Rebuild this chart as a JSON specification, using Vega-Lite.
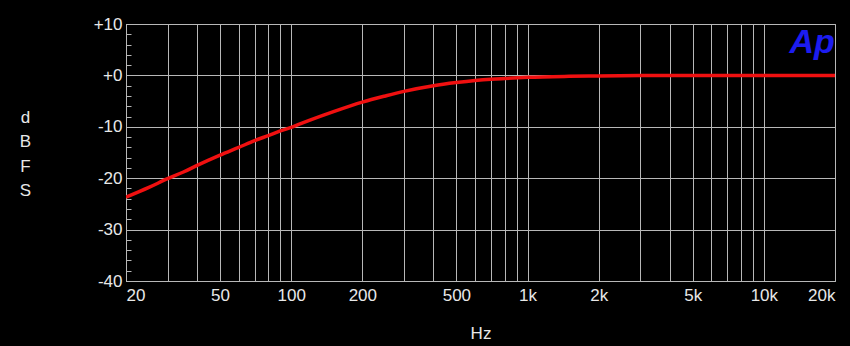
{
  "$schema": "https://vega.github.io/schema/vega-lite/v6.json",
  "width": 709,
  "height": 257,
  "autosize": {"type": "none"},
  "padding": {"left": 126, "top": 24, "right": 15, "bottom": 65},
  "background": "#000000",
  "config": {
    "view": {"stroke": "#b8b8b8", "strokeWidth": 1},
    "font": "Liberation Sans"
  },
  "layer": [
    {
      "data": {"values": [
        {"freq": 20, "dB": -23.7},
        {"freq": 25, "dB": -21.8},
        {"freq": 30, "dB": -20.1},
        {"freq": 35, "dB": -18.8},
        {"freq": 40, "dB": -17.5},
        {"freq": 50, "dB": -15.5},
        {"freq": 60, "dB": -14.0},
        {"freq": 70, "dB": -12.7},
        {"freq": 80, "dB": -11.7},
        {"freq": 90, "dB": -10.8},
        {"freq": 100, "dB": -10.1},
        {"freq": 120, "dB": -8.7},
        {"freq": 150, "dB": -7.1},
        {"freq": 200, "dB": -5.2},
        {"freq": 250, "dB": -4.0},
        {"freq": 300, "dB": -3.1},
        {"freq": 400, "dB": -2.0},
        {"freq": 500, "dB": -1.4},
        {"freq": 600, "dB": -1.0},
        {"freq": 700, "dB": -0.75},
        {"freq": 800, "dB": -0.6},
        {"freq": 1000, "dB": -0.38},
        {"freq": 1500, "dB": -0.18},
        {"freq": 2000, "dB": -0.1},
        {"freq": 3000, "dB": -0.04},
        {"freq": 5000, "dB": -0.02},
        {"freq": 10000, "dB": 0},
        {"freq": 20000, "dB": 0}
      ]},
      "mark": {"type": "line", "color": "#f01010", "strokeWidth": 3.5, "interpolate": "monotone", "clip": true},
      "encoding": {
        "x": {
          "field": "freq", "type": "quantitative",
          "scale": {"type": "log", "domain": [20, 20000], "nice": false},
          "axis": {
            "values": [20,30,40,50,60,70,80,90,100,200,300,400,500,600,700,800,900,1000,2000,3000,4000,5000,6000,7000,8000,9000,10000,20000],
            "tickCount": 200,
            "labelExpr": "indexof([20,50,100,200,500,1000,2000,5000,10000,20000], datum.value) >= 0 ? (datum.value >= 1000 ? (datum.value/1000) + 'k' : '' + datum.value) : ''",
            "labelFlush": true,
            "labelOverlap": false,
            "labelColor": "#e8e8e8",
            "labelFontSize": 17,
            "labelPadding": 6,
            "ticks": false,
            "domainColor": "#b8b8b8",
            "grid": true,
            "gridColor": "#b8b8b8",
            "gridOpacity": 1,
            "title": "Hz",
            "titleColor": "#e8e8e8",
            "titleFontSize": 17,
            "titleFontWeight": "normal",
            "titleBaseline": "middle",
            "titleY": 52
          }
        },
        "y": {
          "field": "dB", "type": "quantitative",
          "scale": {"domain": [-40, 10], "nice": false, "zero": false},
          "axis": {
            "values": [-40,-38,-36,-34,-32,-30,-28,-26,-24,-22,-20,-18,-16,-14,-12,-10,-8,-6,-4,-2,0,2,4,6,8,10],
            "tickCount": 200,
            "labelExpr": "datum.value % 10 !== 0 ? '' : (datum.value >= 0 ? '+' + datum.value : '' + datum.value)",
            "labelOverlap": false,
            "labelColor": "#e8e8e8",
            "labelFontSize": 17,
            "labelPadding": 9,
            "tickSize": -5,
            "tickColor": "#b8b8b8",
            "domainColor": "#b8b8b8",
            "grid": true,
            "gridColor": "#b8b8b8",
            "gridOpacity": {"condition": {"test": "datum.value % 10 === 0", "value": 1}, "value": 0},
            "title": ["d", "B", "F", "S"],
            "titleAngle": 0,
            "titleColor": "#e8e8e8",
            "titleFontSize": 17,
            "titleFontWeight": "normal",
            "titleAlign": "center",
            "titleBaseline": "middle",
            "titleLineHeight": 24.5,
            "titleX": -101,
            "titleY": 93
          }
        }
      }
    },
    {
      "data": {"values": [{"logo": "Ap"}]},
      "mark": {"type": "text", "font": "Liberation Sans", "fontWeight": "bold", "fontStyle": "italic", "fontSize": 34, "color": "#1c1cf0", "align": "center", "baseline": "alphabetic"},
      "encoding": {
        "text": {"field": "logo"},
        "x": {"datum": 15990, "type": "quantitative"},
        "y": {"datum": 4.4, "type": "quantitative"}
      }
    }
  ]
}
